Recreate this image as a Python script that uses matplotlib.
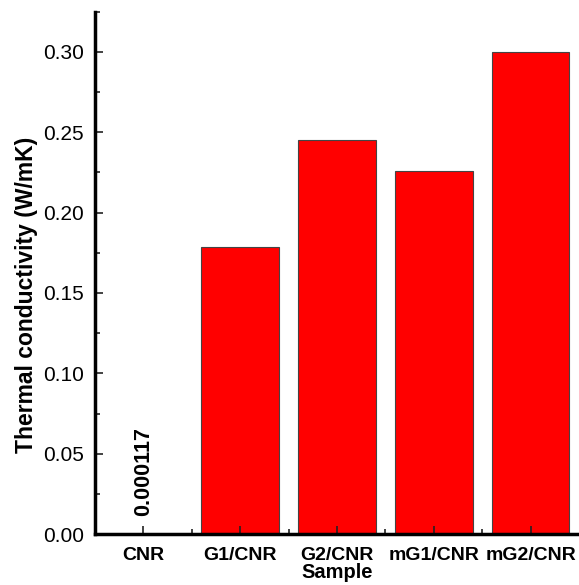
import matplotlib.pyplot as plt
from matplotlib.ticker import MultipleLocator

plt.rcParams['font.family'] = ['Liberation Sans', 'DejaVu Sans']

samples = ['CNR', 'G1/CNR', 'G2/CNR', 'mG1/CNR', 'mG2/CNR']
conductivity = [0.000117, 0.1787, 0.2449, 0.2258, 0.2997]
cnr_label = '0.000117'

fig = plt.figure(figsize=(5.79, 5.85), dpi=100, facecolor='white')
ax = fig.add_axes([0.164, 0.087, 0.836, 0.893])

x = list(range(len(samples)))
ax.bar(x, conductivity, width=0.8, color='#ff0000', edgecolor='#444444', linewidth=0.8)

# value label for the tiny CNR bar
ax.text(x[0], 0.011, cnr_label, rotation=90, ha='center', va='bottom',
        fontsize=15.5, fontweight='bold')

ax.set_xlim(-0.5, 4.5)
ax.set_ylim(0, 0.325)
ax.set_xticks(x)
ax.set_xticklabels(samples, fontsize=14, fontweight='bold')
ax.xaxis.set_minor_locator(plt.FixedLocator([i + 0.5 for i in x[:-1]]))
ax.yaxis.set_major_locator(MultipleLocator(0.05))
ax.yaxis.set_minor_locator(MultipleLocator(0.025))
ax.yaxis.set_major_formatter(plt.FormatStrFormatter('%.2f'))
ax.tick_params(axis='y', labelsize=15, pad=8)

ax.tick_params(which='major', direction='in', length=6, width=1.2, color='#222222')
ax.tick_params(which='minor', direction='in', length=3.5, width=1.2, color='#222222')
ax.tick_params(axis='x', pad=9)

for side in ['top', 'right']:
    ax.spines[side].set_visible(False)
for side in ['left', 'bottom']:
    ax.spines[side].set_linewidth(2.5)

ax.set_xlabel('Sample', fontsize=14.5, fontweight='bold', labelpad=-0.5)
ax.set_ylabel('Thermal conductivity (W/mK)', fontsize=16.5, fontweight='bold')
ax.yaxis.set_label_coords(-0.118, 0.458)

fig.savefig('out.png', dpi=100, facecolor='white')
